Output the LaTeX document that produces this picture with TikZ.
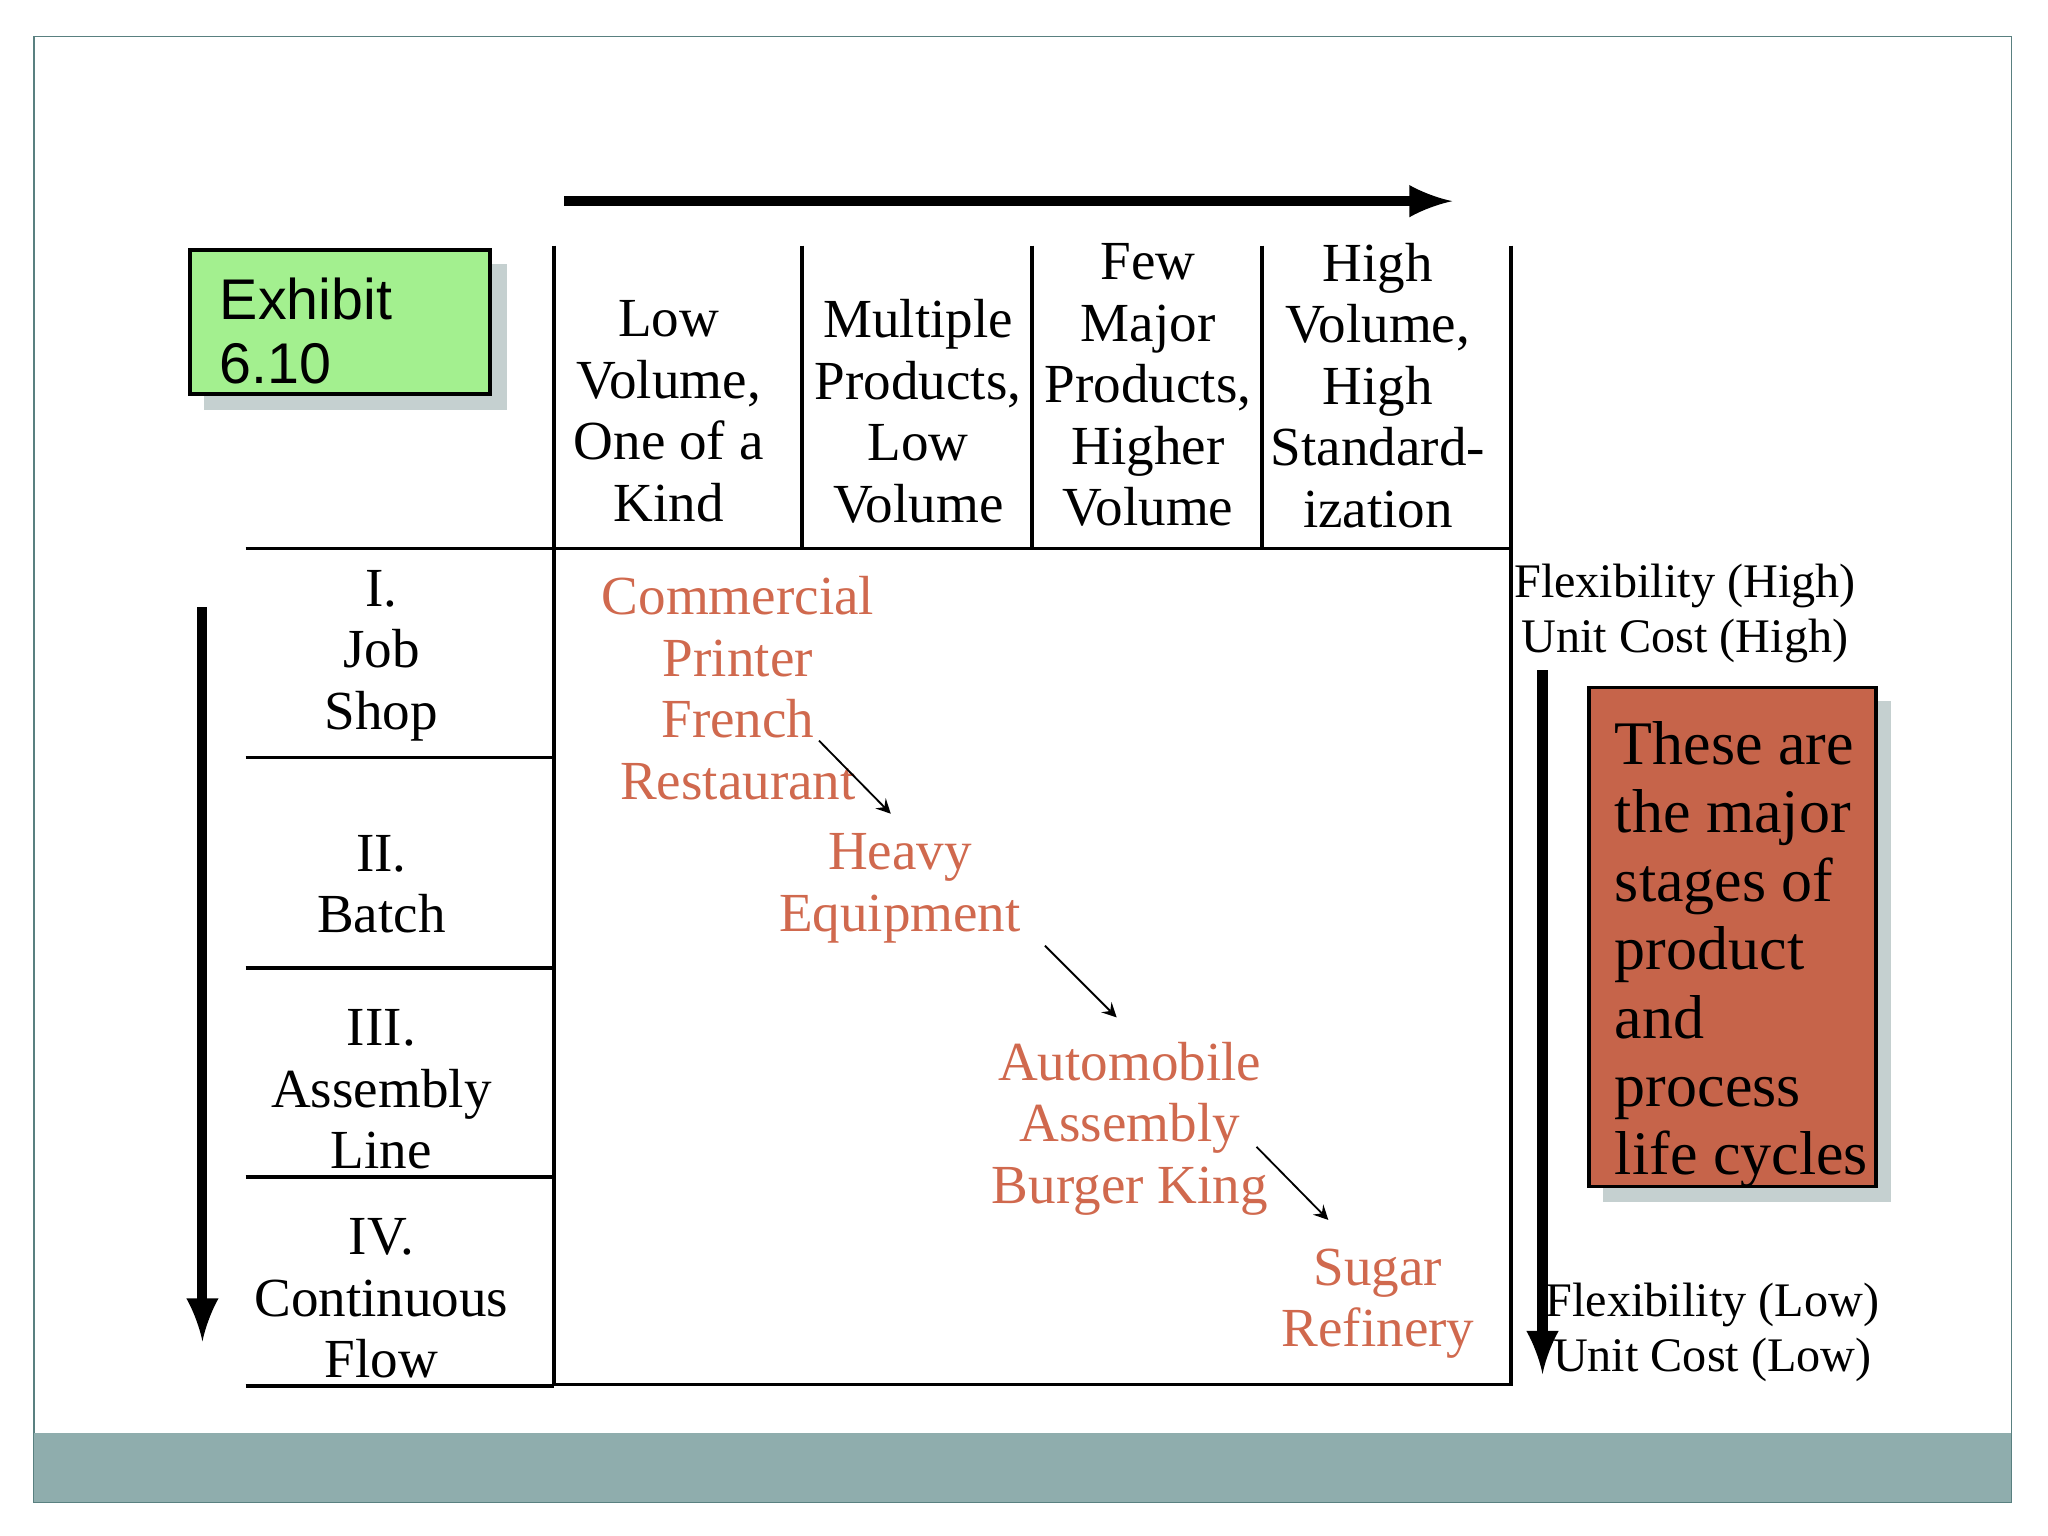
\documentclass[tikz,border=0pt]{standalone}
\usepackage{fontspec}
\setmainfont{Liberation Serif}
\newfontfamily\sansf{Liberation Sans}
\begin{document}
\begin{tikzpicture}[x=0.1mm,y=-0.1mm,
  main/.style={align=center,font=\fontsize{12}{13.4}\selectfont},
  ex/.style={align=center,text=orange!60!red!80!black,font=\fontsize{12}{13.4}\selectfont},
  side/.style={align=center,font=\fontsize{10.5}{12}\selectfont},
  sm/.style={->,>=stealth,thin}]
\definecolor{orng}{HTML}{D0694E}
\tikzset{ex/.append style={text=orng}}
\useasboundingbox (0,0) rectangle (1568,1176);
\fill[white] (0,0) rectangle (1568,1176);
\draw[color=gray!70!teal,thin] (26,28) rectangle (1540,1150);
\fill[color={rgb,255:red,143;green,173;blue,173}] (26,1097) rectangle (1540,1150);
% top arrow
\coordinate (ta) at (432,154); \coordinate (tb) at (1112,154);
\draw[line width=2.2pt,-latex] (ta) -- (tb);
% exhibit
\fill[color={rgb,255:red,197;green,208;blue,208}] (156,202) rectangle (388,314);
\node[draw,thick,fill={rgb,255:red,163;green,240;blue,143},minimum width=23mm,minimum height=11mm,anchor=north west,inner sep=0] (exh) at (144,190) {};
\node[anchor=north west,align=left,font=\sansf\fontsize{12.5}{14}\selectfont] at (156,200) {Exhibit\\6.10};
% columns
\foreach \x in {424,614,790,966,1157} \draw[thick] (\x,188) -- (\x,420);
\draw[thick] (424,420) rectangle (1157,1060);
\foreach \y in {420,580,741,901,1061} \draw[thick] (188,\y) -- (424,\y);
\node[main] (c1) at (512,315) {Low\\Volume,\\One of a\\Kind};
\node[main] (c2) at (703,315) {Multiple\\Products,\\Low\\Volume};
\node[main] (c3) at (879,295) {Few\\Major\\Products,\\Higher\\Volume};
\node[main] (c4) at (1055,295) {High\\Volume,\\High\\Standard-\\ization};
\node[main] (r1) at (292,502) {I.\\Job\\Shop};
\node[main] (r2) at (292,677) {II.\\Batch};
\node[main] (r3) at (292,834) {III.\\Assembly\\Line};
\node[main] (r4) at (292,994) {IV.\\Continuous\\Flow};
% arrows
\coordinate (la) at (155,465); \coordinate (lb) at (155,1027);
\draw[line width=2.2pt,-latex] (la) -- (lb);
\coordinate (ra) at (1181,513); \coordinate (rb) at (1181,1052);
\draw[line width=2.2pt,-latex] (ra) -- (rb);
\node[side] (fh) at (1290,470) {Flexibility (High)\\Unit Cost (High)};
\node[side] (fl) at (1311,1020) {Flexibility (Low)\\Unit Cost (Low)};
% red box
\fill[color={rgb,255:red,197;green,208;blue,208}] (1227,537) rectangle (1448,920);
\node[draw,thick,fill=orng!95!black,minimum width=22mm,minimum height=38.2mm,anchor=north west,inner sep=0] (rb2) at (1215,525) {};
\node[anchor=north west,align=left,font=\fontsize{13.5}{14.9}\selectfont] at (1224,540) {These are\\the major\\stages of\\product\\and\\process\\life cycles};
% examples
\node[ex] (e1) at (565,527) {Commercial\\Printer\\French\\Restaurant};
\node[ex] (e2) at (689,680) {Heavy\\Equipment};
\node[ex] (e3) at (865,864) {Automobile\\Assembly\\Burger King};
\node[ex] (e4) at (1055,998) {Sugar\\Refinery};
\coordinate (a1) at (627,567); \coordinate (a2) at (682,623);
\coordinate (b1) at (800,724); \coordinate (b2) at (855,779);
\coordinate (d1) at (962,878); \coordinate (d2) at (1017,934);
\draw[sm] (a1) -- (a2); \draw[sm] (b1) -- (b2); \draw[sm] (d1) -- (d2);
\end{tikzpicture}
\end{document}
